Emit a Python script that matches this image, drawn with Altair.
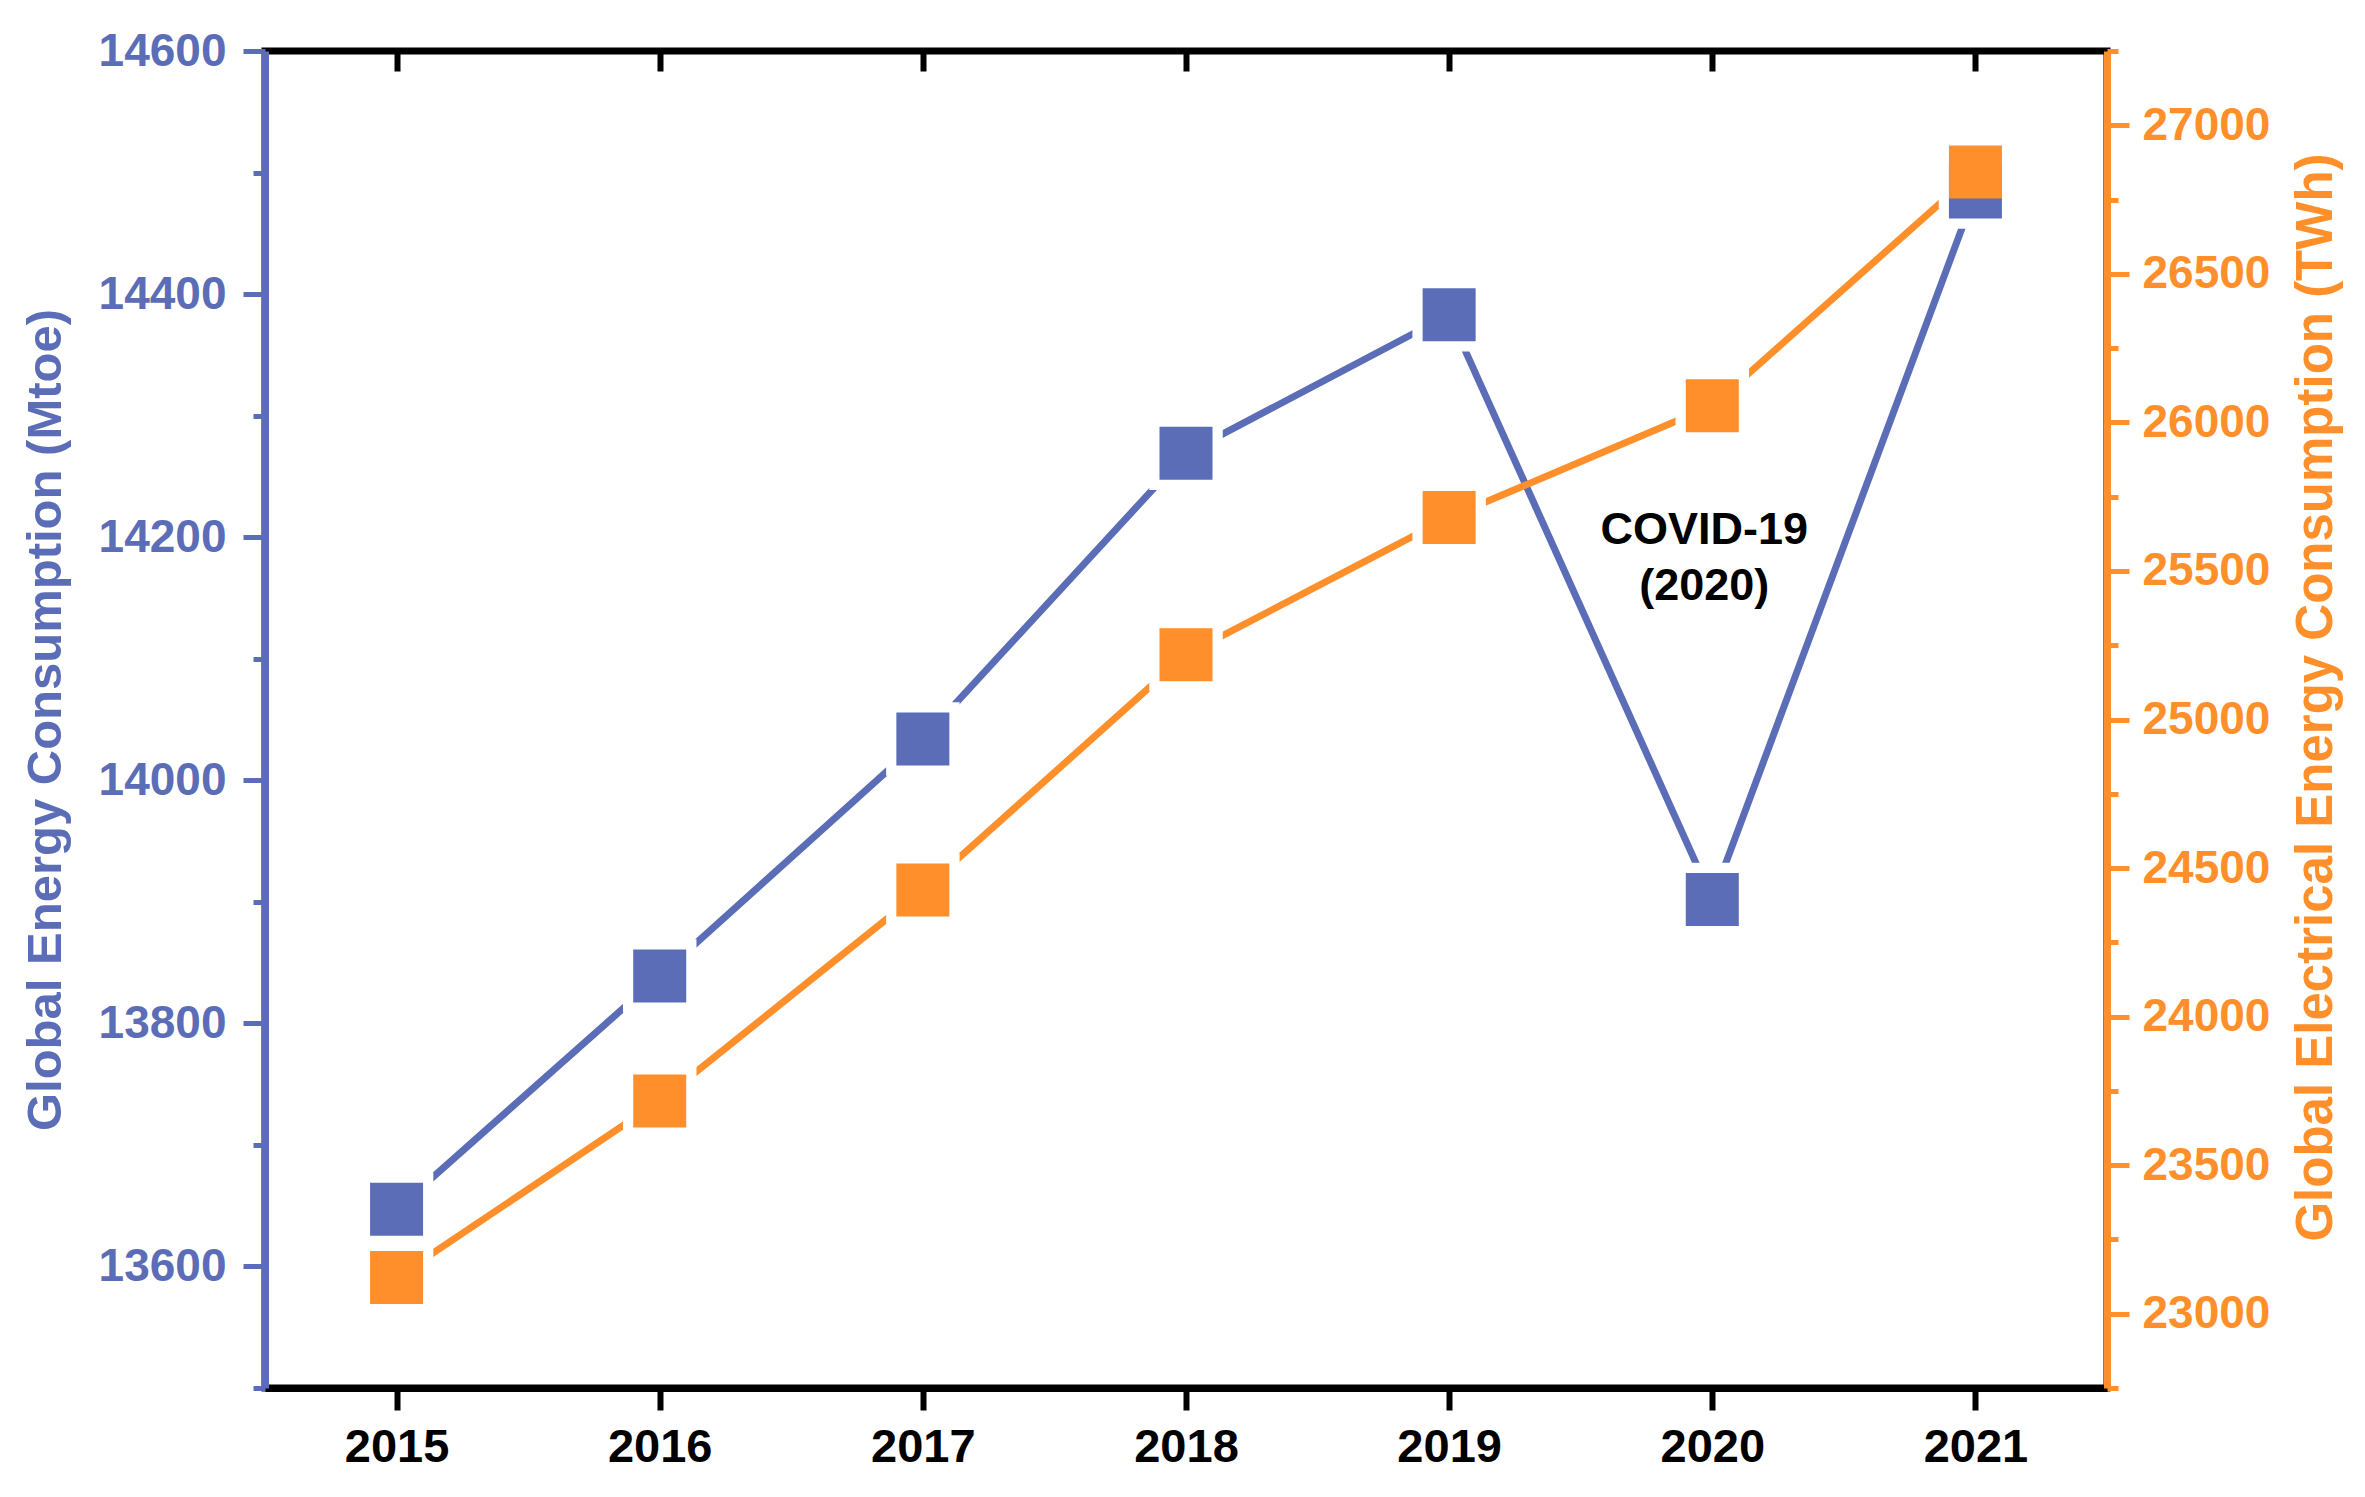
import altair as alt
import pandas as pd

years = [2015, 2016, 2017, 2018, 2019, 2020, 2021]
energy_mtoe = [13647, 13839, 14034, 14269, 14383, 13902, 14484]
elec_twh = [23122, 23716, 24426, 25218, 25680, 26056, 26843]

left_ticks = list(range(13500, 14601, 100))
right_ticks = list(range(22750, 27251, 250))
year_ticks = years

BLUE = "#5B6DB6"
ORANGE = "#FF8F2A"
FONT = "Liberation Sans"

df = pd.DataFrame({"year": years, "mtoe": energy_mtoe, "twh": elec_twh})
ann = pd.DataFrame({"year": [2020], "mtoe": [14206], "label": [["COVID-19", "(2020)"]]})

xdom = alt.Scale(domain=[2014.5, 2021.5], nice=False, zero=False)
ldom = alt.Scale(domain=[13500, 14600], nice=False, zero=False)
rdom = alt.Scale(domain=[22750, 27250], nice=False, zero=False)

x_bottom = alt.Axis(values=year_ticks, format="d", orient="bottom", title=None,
                    domainColor="black", domainWidth=7, tickColor="black", tickWidth=6,
                    tickSize=22, labelFont=FONT, labelFontSize=47, labelFontWeight="bold",
                    labelColor="black", labelPadding=14, grid=False)
x_top = alt.Axis(values=year_ticks, format="d", orient="top", title=None, domain=False,
                 labels=False, tickColor="black", tickWidth=6, tickSize=20, offset=-20, grid=False)

y_left = alt.Axis(values=left_ticks, format="d", orient="left",
                  labelExpr="datum.value % 200 == 0 ? datum.label : ''",
                  tickSize={"condition": {"test": "datum.value % 200 == 0", "value": 22}, "value": 12},
                  tickColor=BLUE, tickWidth=5, domainColor=BLUE, domainWidth=7,
                  labelColor=BLUE, labelFont=FONT, labelFontSize=46, labelFontWeight="bold",
                  labelPadding=17, title="Global Energy Consumption (Mtoe)", titleColor=BLUE,
                  titleFont=FONT, titleFontSize=49, titleFontWeight="bold", titlePadding=28, grid=False)
y_right = alt.Axis(values=right_ticks, format="d", orient="right",
                   labelExpr="datum.value % 500 == 0 ? datum.label : ''",
                   tickSize={"condition": {"test": "datum.value % 500 == 0", "value": 22}, "value": 11},
                   tickColor=ORANGE, tickWidth=5, domainColor=ORANGE, domainWidth=7,
                   labelColor=ORANGE, labelFont=FONT, labelFontSize=46, labelFontWeight="bold",
                   labelPadding=13, title="Global Electrical Energy Consumption (TWh)", titleColor=ORANGE,
                   titleFont=FONT, titleFontSize=51, titleFontWeight="bold", titlePadding=22,
                   titleAngle=270, titleBaseline="top", titleY=646, grid=False)

base = alt.Chart(df)

line_b = base.mark_line(color=BLUE, strokeWidth=7).encode(
    x=alt.X("year:Q", scale=xdom, axis=x_bottom),
    y=alt.Y("mtoe:Q", scale=ldom, axis=y_left))
halo_b = base.mark_square(color="white", size=5400, opacity=1).encode(
    x=alt.X("year:Q", scale=xdom, axis=None),
    y=alt.Y("mtoe:Q", scale=ldom, axis=None))
line_o = base.mark_line(color=ORANGE, strokeWidth=7).encode(
    x=alt.X("year:Q", scale=xdom, axis=x_top),
    y=alt.Y("twh:Q", scale=rdom, axis=y_right))
halo_o = base.mark_square(color="white", size=5400, opacity=1).encode(
    x=alt.X("year:Q", scale=xdom, axis=None),
    y=alt.Y("twh:Q", scale=rdom, axis=None))
sq_b = base.mark_square(color=BLUE, size=2809, opacity=1).encode(
    x=alt.X("year:Q", scale=xdom, axis=None),
    y=alt.Y("mtoe:Q", scale=ldom, axis=None))
sq_o = base.mark_square(color=ORANGE, size=2809, opacity=1).encode(
    x=alt.X("year:Q", scale=xdom, axis=None),
    y=alt.Y("twh:Q", scale=rdom, axis=None))
text = alt.Chart(ann).mark_text(font=FONT, fontSize=45, fontWeight="bold", color="black",
                                lineHeight=56, baseline="middle", align="center", dx=-8).encode(
    x=alt.X("year:Q", scale=xdom, axis=None),
    y=alt.Y("mtoe:Q", scale=ldom, axis=None),
    text="label")

chart = alt.layer(line_b, halo_b, line_o, halo_o, sq_b, sq_o, text).resolve_scale(
    y="independent"
).resolve_axis(x="independent", y="independent").properties(
    width=1842, height=1337,
    autosize=alt.AutoSizeParams(type="none"),
    padding={"left": 257, "top": 43, "right": 250, "bottom": 100},
    background="white",
).configure_view(stroke="black", strokeWidth=7)

chart.save("out.html", embed_options={"renderer": "svg", "actions": False})
